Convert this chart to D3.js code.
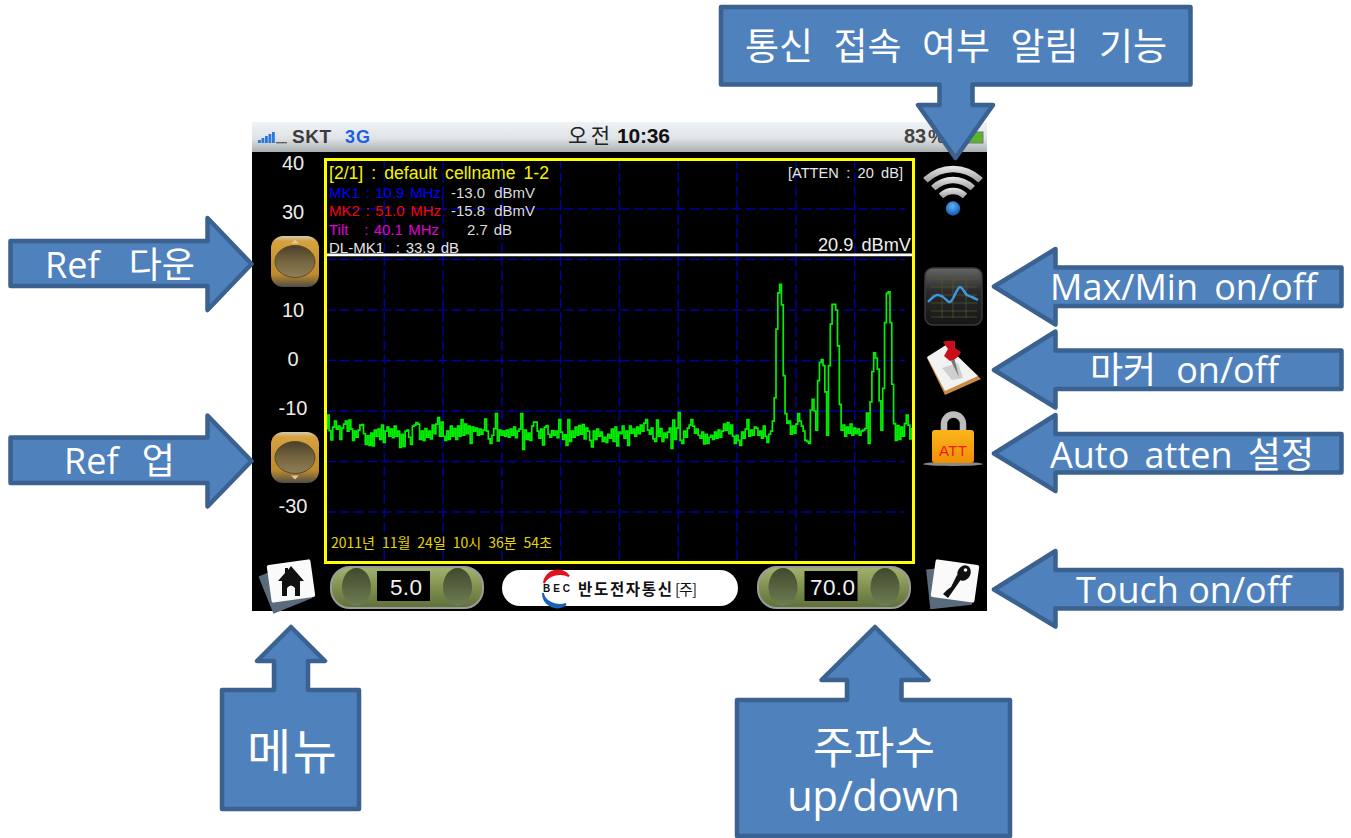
<!DOCTYPE html>
<html><head><meta charset="utf-8">
<style>html,body{margin:0;padding:0;background:#fff}svg{display:block}</style>
<script src="https://cdn.jsdelivr.net/npm/d3@7"></script>
</head><body><div id="c"></div>
<script>
// Chart data
const refTicks = [40,30,10,0,-10,-30];
const freqStart = 5.0, freqStep = 0.2, freqSpan = 70.0;
const refLevel = 20.9;
const traceDbmv = [
-13.5,-10.8,-13.9,-15.7,-13.2,-12,-13.6,-13,-15.6,-13.4,
-12.6,-12,-14,-11.8,-13.6,-15.8,-14,-15.2,-13.8,-12.8,
-12.7,-14.5,-16.6,-14.9,-16.8,-14.4,-16.9,-13.8,-15,-13.6,
-15.6,-12.8,-16.2,-14,-13.2,-15,-13.6,-15.3,-13,-15,
-14,-17.2,-14.6,-17,-14,-13.8,-15.2,-16.6,-13,-12.8,
-12.3,-12.6,-15.6,-14,-15.8,-13.5,-15.2,-14,-15.5,-12.8,
-14.5,-12.6,-11.3,-15,-12.2,-15,-15.8,-14,-15.6,-13,
-15,-13.5,-15.6,-13,-15,-11.7,-14.8,-12.6,-14.5,-13,
-16.4,-13.2,-14,-13.4,-14.8,-13.6,-14.6,-13.8,-11.6,-14,
-15.5,-16.4,-14.8,-13.5,-10.5,-15.9,-13.8,-14.8,-14,-15,
-13.8,-15.2,-13.6,-14.8,-13.2,-15.3,-14,-13.6,-10.5,-17.6,
-13.8,-15.6,-14.4,-15.8,-13,-12.2,-12.2,-14,-15.4,-13.6,
-16.7,-13.2,-12.9,-14.6,-15.2,-13.9,-14.8,-14,-15.3,-11.7,
-14.2,-15.6,-14.7,-16.8,-11.7,-16,-14,-15.2,-13.2,-14.8,
-12.9,-14.6,-12.7,-15.5,-13.4,-14,-15.8,-17.1,-14,-15.6,
-13.6,-15,-14.2,-16,-15.2,-16.2,-14.6,-15.4,-13.6,-16,
-13.2,-16.9,-14.2,-14.5,-13,-15.4,-14,-16.8,-13,-14.4,
-13.6,-15,-13.2,-14.5,-12.8,-14,-12.4,-11.7,-13.8,-14.6,
-13.4,-15.5,-16,-11.8,-15,-13.5,-16,-14.4,-15.3,-14.2,
-13.4,-17.4,-11.8,-15.6,-13.4,-10.3,-15.8,-16.4,-14,-15.2,
-13.4,-12.8,-11.7,-13,-14.4,-13.6,-14.8,-15.4,-14.2,-16.5,
-14.6,-16.4,-15.2,-14.8,-15.6,-14.2,-15.4,-13.8,-15.2,-14,
-12.6,-13.8,-12.3,-14.5,-12.8,-15,-16.4,-14.8,-15.8,-16.8,
-14.2,-15.4,-13.6,-11.7,-15,-13.8,-14.8,-13.2,-13.4,-14.8,
-14,-15.4,-13,-15,-16.2,-14.6,-14,-12,-7.4,6.2,
13.4,15.1,11,-3,-10.5,-12.4,-12,-14.6,-13,-14.4,
-12.6,-10.5,-12,-13,-14,-15.8,-16,-16.4,-9.8,-7.7,
-10,-13.8,-4,-0.4,0.2,-1,-6.2,-14.8,-1,7.2,
11.1,11.1,10,2.9,-8.7,-13.8,-12.8,-15,-13.2,-14.4,
-12.6,-14.8,-13.4,-14.5,-13.6,-14.8,-14,-13.8,-13.5,-10.4,
-16.4,-8.2,-2.2,1.5,0.5,-1.7,-8,-13.8,-5.5,7.5,
13.3,13.6,7.5,-4.7,-12.5,-15.8,-12.9,-15.6,-13.2,-15,
-12.5,-10.8,-12.8,-15.5,-13.5,-13.7];
const titleLine = "[2/1] : default cellname 1-2";
const attenLabel = "[ATTEN : 20 dB]";
const refLabel = "20.9 dBmV";
const markerNames = ["MK1 : 10.9 MHz,","MK2 : 51.0 MHz","Tilt   : 40.1 MHz"];
const markerValues = ["-13.0 dBmV","-15.8 dBmV","2.7 dB"];
const deltaLabel = "DL-MK1  : 33.9 dB";
const dateLabel = "2011년 11월 24일 10시 36분 54초";
const spanLabels = ["5.0","70.0"];
const calloutTexts = ["통신 접속 여부 알림 기능","Ref  다운","Ref  업","Max/Min on/off","마커 on/off","Auto atten 설정","Touch on/off","메뉴","주파수","up/down"];
const iconWave = [[928,302],[937,295],[943,297],[950,302],[960,287],[967,295],[972,297],[978,300]];

const svg = d3.select("#c").append("svg").attr("width",1351).attr("height",838);
const defs = svg.append("defs");
function grad(id,stops,vert=true){
  const g=defs.append("linearGradient").attr("id",id).attr("x1",0).attr("y1",0).attr("x2",vert?0:1).attr("y2",vert?1:0);
  stops.forEach(([o,c])=>g.append("stop").attr("offset",o).attr("stop-color",c));
}
grad("bar",[[0,"#f0f3f5"],[.55,"#dfe3e6"],[1,"#a9aeb1"]]);
grad("gold",[[0,"#cfcab4"],[.1,"#d6a23e"],[.75,"#c08a2c"],[1,"#4f4d48"]]);
grad("brass",[[0,"#4a3f2a"],[.5,"#75653f"],[1,"#8f8058"]]);
grad("olive",[[0,"#a3b36e"],[.5,"#7f9050"],[1,"#5f6f3a"]]);
grad("oval",[[0,"#3f4a2c"],[1,"#6f7d52"]]);
grad("screen",[[0,"#656565"],[.4,"#2b2b2b"],[1,"#161616"]]);
grad("lock",[[0,"#fbb61a"],[1,"#ef8f04"]]);
grad("wifi",[[0,"#ececec"],[1,"#9a9a9a"]]);
const dot=defs.append("radialGradient").attr("id","dot").attr("cx",.45).attr("cy",.35).attr("r",.7);
dot.append("stop").attr("offset",0).attr("stop-color","#5db4f5");
dot.append("stop").attr("offset",1).attr("stop-color","#0a4fa8");

const SANS="'Liberation Sans',Arial,sans-serif";
const KR="'Noto Sans CJK KR',sans-serif";
const OFFICE="'Open Sans','Noto Sans CJK KR',sans-serif";
// width is taken up by the word gaps when there are any, otherwise by the letter gaps
function fit(g,str,x0,x1,base,size,fill,family,extra={}){
  const t=g.append("text").attr("x",x0).attr("y",base).attr("font-size",size).attr("fill",fill)
    .attr("font-family",family).style("white-space","pre").text(str);
  Object.entries(extra).forEach(([k,v])=>t.attr(k,v));
  const gaps=(str.match(/ /g)||[]).length, len=t.node().getComputedTextLength();
  if(gaps>0) t.attr("word-spacing",((x1-x0)-len)/gaps);
  else t.attr("textLength",x1-x0).attr("lengthAdjust","spacing");
  return t;
}

// phone screen
const phone=svg.append("g");
phone.append("rect").attr("x",252).attr("y",122).attr("width",735).attr("height",30).attr("fill","url(#bar)");
phone.append("rect").attr("x",252).attr("y",152).attr("width",735).attr("height",459).attr("fill","#000");
[3,5,7,9,11].forEach((h,i)=>phone.append("rect").attr("x",258+i*3.5).attr("y",143-h).attr("width",2.8).attr("height",h).attr("fill","#2a78dc"));
phone.append("rect").attr("x",276).attr("y",142).attr("width",11).attr("height",1.4).attr("fill","#666");
fit(phone,"SKT",292,331,143,19,"#3c3c3c",SANS,{"font-weight":"bold"});
fit(phone,"3G",345,370,143,18,"#1f5fe0",SANS,{"font-weight":"bold"});
fit(phone,"오전",568,610,143,21,"#222",KR);
fit(phone,"10:36",617,670,143,21,"#111",SANS,{"font-weight":"bold"});
fit(phone,"83",904,926,143,20,"#444",SANS,{"font-weight":"bold"});
fit(phone,"%",928,945,143,19,"#444",SANS,{"font-weight":"bold"});
phone.append("rect").attr("x",965).attr("y",132).attr("width",18).attr("height",11).attr("fill","#5ab52a").attr("stroke","#777");

// scales for the plot
const x=d3.scaleLinear().domain([freqStart,freqSpan]).range([325.5,913.5]);
const y=d3.scaleLinear().domain([40,-40]).range([158.5,562.5]);
const grid=phone.append("g").attr("stroke","#00009c").attr("stroke-width",1.5).attr("stroke-dasharray","10 4").attr("fill","none");
const xg=d3.range(1,10).map(i=>freqStart+i*(freqSpan-freqStart)/10);
const yg=d3.range(-30,40,10);
grid.selectAll(".v").data(xg).join("line").attr("x1",d=>x(d)).attr("x2",d=>x(d)).attr("y1",y(40)).attr("y2",y(-40));
grid.selectAll(".h").data(yg).join("line").attr("x1",x.range()[0]).attr("x2",905).attr("y1",d=>y(d)).attr("y2",d=>y(d));

// y labels
const labelY=d3.scaleLinear().domain([40,-30]).range([163,506]);
const ax=phone.append("g").attr("transform","translate(293,0)")
  .call(d3.axisLeft(labelY).tickValues(refTicks).tickSize(0).tickPadding(0).tickFormat(d=>String(d)));
ax.select(".domain").remove();
ax.selectAll("text").attr("x",0).attr("text-anchor","middle").attr("fill","#ededed").attr("font-size",20).attr("font-family",SANS);

// trace
const line=d3.line().x((d,i)=>x(freqStart+i*freqStep)).y(d=>y(d)).curve(d3.curveStepAfter);
phone.append("path").attr("d",line(traceDbmv)).attr("fill","none").attr("stroke","#00f000").attr("stroke-width",1.7).attr("stroke-linejoin","miter");

// reference line and frame
phone.append("line").attr("x1",x.range()[0]).attr("x2",x.range()[1]).attr("y1",y(refLevel)).attr("y2",y(refLevel)).attr("stroke","#fff").attr("stroke-width",2.8);
phone.append("rect").attr("x",325.5).attr("y",159.5).attr("width",588).attr("height",403).attr("fill","none").attr("stroke","#ffff00").attr("stroke-width",3);

// readouts
fit(phone,titleLine,329,549,179,17.6,"#f4f400",SANS);
fit(phone,attenLabel,788,903,178,14.6,"#e8e8e8",SANS);
fit(phone,refLabel,818,911,251,18.2,"#f0f0f0",SANS);
const mkCol=["#0000ff","#ff0000","#e000d8"], mkY=[198,216,235];
markerNames.forEach((s,i)=>fit(phone,s,329,i==0?445:i==1?441:439,mkY[i],15,mkCol[i],SANS));
markerValues.forEach((s,i)=>i<2?fit(phone,s,451,535,mkY[i],15,"#dcdcdc",SANS):fit(phone,s,467,512,mkY[i],15,"#dcdcdc",SANS));
fit(phone,deltaLabel,329,459,253,15,"#e6e6e6",SANS);
fit(phone,dateLabel,331,552,548,14,"#e6d800",KR);

// side buttons
[[271,236,"up"],[271,432,"down"]].forEach(([bx,by,dir])=>{
  phone.append("rect").attr("x",bx).attr("y",by).attr("width",48).attr("height",51).attr("rx",12).attr("fill","url(#gold)");
  phone.append("ellipse").attr("cx",bx+24).attr("cy",by+25.5).attr("rx",20).attr("ry",16).attr("fill","url(#brass)").attr("stroke","#5a4a28");
  const ty=dir=="up"?by+3.5:by+47.5, s=dir=="up"?1:-1;
  phone.append("path").attr("d",`M${bx+24},${ty} l4,${4*s} h-8 z`).attr("fill","#e8c98a");
});

// wifi icon
[17,28,39].forEach(r=>{
  const a=d3.arc().innerRadius(r-3.3).outerRadius(r+3.3).startAngle(-Math.PI/4).endAngle(Math.PI/4).cornerRadius(1);
  phone.append("path").attr("transform","translate(953,208)").attr("d",a()).attr("fill","url(#wifi)");
});
phone.append("circle").attr("cx",953).attr("cy",208.5).attr("r",7.2).attr("fill","url(#dot)");

// max/min icon
phone.append("rect").attr("x",925).attr("y",268).attr("width",57).attr("height",57).attr("rx",8).attr("fill","url(#screen)").attr("stroke","#3a3a3a").attr("stroke-width",1.5);
const ic=phone.append("g").attr("stroke","#565c2a").attr("stroke-width",.7);
[279,287,295,303,311,317].forEach(v=>ic.append("line").attr("x1",931).attr("x2",977).attr("y1",v).attr("y2",v));
[942,953,966].forEach(v=>ic.append("line").attr("x1",v).attr("x2",v).attr("y1",277).attr("y2",318));
phone.append("path").attr("d",d3.line().curve(d3.curveCatmullRom)(iconWave)).attr("fill","none").attr("stroke","#3d97e0").attr("stroke-width",2.5);

// marker icon
phone.append("path").attr("d","M927,358 L946,346 L981,379 L945,395 Z").attr("fill","#c98a48");
phone.append("path").attr("d","M927,357 L946,345 L978,376 L945,391 Z").attr("fill","#f2f2f2");
phone.append("path").attr("d","M942,368 L958,363 L963,378 L952,380 Z").attr("fill","#cfcfcf");
phone.append("path").attr("d","M954,357 L959,377 L951,361 Z").attr("fill","#777");
phone.append("path").attr("d","M943,342 Q948,340 955,341 L955,348 L961,352 Q958,359 950,361 L944,356 L948,349 Z").attr("fill","#c8101c");

// lock icon
phone.append("ellipse").attr("cx",953).attr("cy",464).attr("rx",30).attr("ry",2).attr("fill","#8a8a8a");
phone.append("path").attr("d","M944,432 V424 A9.5,9.5 0 0 1 963,424 V432").attr("fill","none").attr("stroke","#bdbdbd").attr("stroke-width",6.5);
phone.append("rect").attr("x",932).attr("y",430).attr("width",42).attr("height",33).attr("rx",3).attr("fill","url(#lock)");
fit(phone,"ATT",939,967,456,15,"#ee1c0e",SANS);

// bottom bar
function note(cx,cy,rot){
  phone.append("rect").attr("x",-22).attr("y",-19).attr("width",42).attr("height",40).attr("fill","#5a6b7b")
    .attr("transform",`translate(${cx-5},${cy+5}) rotate(${rot-14})`);
  phone.append("rect").attr("x",-22).attr("y",-19).attr("width",44).attr("height",38).attr("rx",2).attr("fill","#fafafa")
    .attr("transform",`translate(${cx},${cy}) rotate(${rot})`);
}
note(291,581,-8); note(955,581,8);
phone.append("path").attr("d","M291,566 L304,581 H300 V596 H295 V588 Q291,583 287,588 V596 H282 V581 H278 L285,573 V568 H288 V570 Z").attr("fill","#111");
phone.append("ellipse").attr("cx",964).attr("cy",573).attr("rx",6.5).attr("ry",8).attr("transform","rotate(25 964 573)").attr("fill","#111");
phone.append("circle").attr("cx",965.5).attr("cy",570).attr("r",1.8).attr("fill","#fafafa");
phone.append("path").attr("d","M962,578 L948,598 L943,594 L947,590 L951,587 L957,575 Z").attr("fill","#111");

function slider(x0,x1,rx0,rx1,o0,o1,label,tx0,tx1){
  phone.append("rect").attr("x",x0).attr("y",567).attr("width",x1-x0).attr("height",41).attr("rx",19).attr("fill","url(#olive)").attr("stroke","#9b9b9b").attr("stroke-width",2);
  [o0,o1].forEach(c=>phone.append("ellipse").attr("cx",c).attr("cy",587).attr("rx",14.5).attr("ry",19).attr("fill","url(#oval)"));
  phone.append("rect").attr("x",rx0).attr("y",571).attr("width",rx1-rx0).attr("height",30).attr("fill","#000");
  fit(phone,label,tx0,tx1,595,22.5,"#f2f2f2",SANS);
}
slider(331,483,377,430,356.5,457.5,spanLabels[0],390,422);
slider(758,910,804.5,857.5,783,885,spanLabels[1],810,855);

phone.append("rect").attr("x",502).attr("y",570).attr("width",236).attr("height",36).attr("rx",18).attr("fill","#fff");
phone.append("path").attr("d","M544,583 A14,14 0 0 1 569,576 A17,13 0 0 0 544,583 Z").attr("fill","#e0141c").attr("stroke","#e0141c").attr("stroke-width",2);
phone.append("path").attr("d","M543,593 A14,14 0 0 0 566,604 A17,13 0 0 1 543,593 Z").attr("fill","#1a62b8").attr("stroke","#1a62b8").attr("stroke-width",2);
fit(phone,"BEC",543,570,592,10,"#111",SANS,{"font-weight":"bold"});
fit(phone,"반도전자통신",578,672,595,15.5,"#111",KR,{"font-weight":"700"});
fit(phone,"[주]",675,697,595,15,"#111",KR,{"font-weight":"400"});

// callout arrows
const callouts=svg.append("g").attr("fill","#4f81bd").attr("stroke","#3a618f").attr("stroke-width",4.5).attr("stroke-linejoin","round");
function poly(p){callouts.append("path").attr("d","M"+p.map(q=>q.join(",")).join("L")+"Z");}
function rightArrow(x0,ys0,ys1,hx,hy0,hy1,tx,ty){poly([[x0,ys0],[hx,ys0],[hx,hy0],[tx,ty],[hx,hy1],[hx,ys1],[x0,ys1]]);}
function leftArrow(ys0,ys1,hy0,hy1,ty){rightArrow(1341.5,ys0,ys1,1055.5,hy0,hy1,994,ty);}
function upBox(bx0,bx1,by0,by1,sx0,sx1,hy,hx0,hx1,tx,ty){poly([[bx0,by0],[sx0,by0],[sx0,hy],[hx0,hy],[tx,ty],[hx1,hy],[sx1,hy],[sx1,by0],[bx1,by0],[bx1,by1],[bx0,by1]]);}
poly([[721,7],[1190.5,7],[1190.5,84.5],[972.5,84.5],[972.5,105],[993,105],[955.5,158],[918,105],[939.5,105],[939.5,84.5],[721,84.5]]);
rightArrow(10.5,241,286,207.5,218,310,251.5,264);
rightArrow(10.5,437.5,483,207.5,415.5,506.5,251.5,461);
leftArrow(267.5,306,249,324.5,286.5);
leftArrow(350.5,389,331.5,407.5,370);
leftArrow(434,472.5,415,491,453.5);
leftArrow(570,608.5,551,626.5,589.5);
upBox(222,359,690,809,274,308,661,257,325,291,627);
upBox(737,1010,700,836,847,901.5,680,821.5,928.5,875,627);

const lab=svg.append("g");
fit(lab,calloutTexts[0],745,1167,60,37,"#fff",KR,{"font-weight":"400"});
fit(lab,calloutTexts[1],45,195,278,36,"#fff",OFFICE);
fit(lab,calloutTexts[2],64,175,474,36,"#fff",OFFICE);
fit(lab,calloutTexts[3],1050,1317,300,36,"#fff",OFFICE);
fit(lab,calloutTexts[4],1090,1279,383,36,"#fff",OFFICE);
fit(lab,calloutTexts[5],1050,1314,468,36,"#fff",OFFICE);
fit(lab,calloutTexts[6],1076,1291,603,36,"#fff",OFFICE);
fit(lab,calloutTexts[7],247,337,769,48,"#fff",KR);
// the two-line label is one text element
const two=lab.append("text").attr("fill","#fff").attr("font-family",OFFICE);
two.append("tspan").attr("x",813).attr("y",764).attr("font-size",44).attr("font-family",KR).attr("textLength",122).attr("lengthAdjust","spacing").text(calloutTexts[8]);
two.append("tspan").attr("x",787).attr("y",811).attr("font-size",42).attr("textLength",173).attr("lengthAdjust","spacing").text(calloutTexts[9]);
</script></body></html>
